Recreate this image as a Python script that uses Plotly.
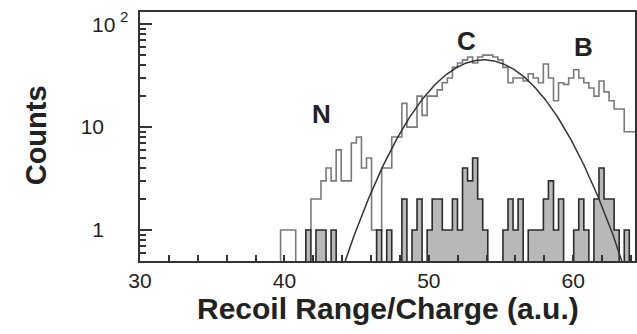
import numpy as np
import plotly.graph_objects as go

# Histogram binning (recoil range / charge, arbitrary units)
bin_start = 39.735
bin_width = 0.35

# All events per bin
all_counts = [
    1, 1, 1, 0, 0, 1, 2, 2, 3, 4,
    3, 6, 3, 3, 7, 8, 4, 5, 1, 1,
    4, 4, 8, 8, 17, 10, 10, 20, 13, 20,
    20, 23, 27, 30, 38, 42, 45, 48, 42, 48,
    50, 50, 48, 45, 38, 27, 30, 30, 28, 33,
    30, 27, 41, 30, 18, 27, 26, 30, 36, 30,
    27, 24, 20, 28, 22, 18, 15, 15, 9, 9,
    9,
]

# Events passing the coincidence condition (shaded)
tagged_counts = [
    0, 0, 0, 0, 0, 1, 0, 1, 1, 0,
    1, 0, 0, 0, 0, 0, 0, 0, 0, 1,
    0, 1, 0, 0, 2, 0, 1, 2, 0, 1,
    2, 2, 1, 1, 2, 1, 4, 3, 5, 2,
    1, 0, 0, 0, 1, 2, 1, 2, 0, 1,
    1, 1, 2, 3, 1, 2, 0, 0, 1, 2,
    1, 0, 2, 4, 2, 2, 1, 0, 1, 0,
    0,
]

# Gaussian fit to the carbon peak
fit_amplitude = 45.0
fit_center = 53.8
fit_sigma = 3.2

species_labels = ["N", "C", "B"]
species_x = [42.6, 52.6, 60.7]
species_y = [13.5, 68.0, 60.0]

x_tick_vals = [30, 40, 50, 60]
x_minor_vals = [32, 34, 36, 38, 42, 44, 46, 48, 52, 54, 56, 58, 62, 64]
y_tick_vals = [1, 10, 100]
y_tick_text = ["1", "10", ""]
y_minor_vals = [0.6, 0.7, 0.8, 0.9, 2, 3, 4, 5, 6, 7, 8, 9,
                20, 30, 40, 50, 60, 70, 80, 90]

FLOOR = 0.2  # below the visible range, used to close empty bins


def step_path(counts):
    xs, ys = [], []
    for i, c in enumerate(counts):
        lo = bin_start + i * bin_width
        hi = lo + bin_width
        v = c if c > 0 else FLOOR
        xs += [lo, hi]
        ys += [v, v]
    xs = [xs[0]] + xs + [xs[-1]]
    ys = [FLOOR] + ys + [FLOOR]
    return xs, ys


fig = go.Figure()

ax, ay = step_path(all_counts)
fig.add_trace(go.Scatter(x=ax, y=ay, mode="lines",
                         line=dict(color="#7a7a7a", width=1.6),
                         hoverinfo="skip"))

tx, ty = step_path(tagged_counts)
fig.add_trace(go.Scatter(x=tx, y=ty, mode="lines", fill="toself",
                         fillcolor="#b8b8b8",
                         line=dict(color="#2b2b2b", width=1.6),
                         hoverinfo="skip"))

fx = np.linspace(42.0, 66.0, 400)
fy = fit_amplitude * np.exp(-(fx - fit_center) ** 2 / (2 * fit_sigma ** 2))
fig.add_trace(go.Scatter(x=fx, y=fy, mode="lines",
                         line=dict(color="#333333", width=1.5),
                         hoverinfo="skip"))

for lab, lx, ly in zip(species_labels, species_x, species_y):
    fig.add_annotation(x=lx, y=np.log10(ly), text=f"<b>{lab}</b>",
                       showarrow=False, font=dict(size=26, color="#222"),
                       xanchor="center", yanchor="middle")

# 10^2 label on the count axis
fig.add_annotation(xref="paper", yref="y", x=-0.046, y=2.0, text="10",
                   showarrow=False, xanchor="right", yanchor="middle",
                   font=dict(size=21, color="#222"))
fig.add_annotation(xref="paper", yref="y", x=-0.033, y=2.07, text="2",
                   showarrow=False, xanchor="center", yanchor="middle",
                   font=dict(size=15, color="#222"))

fig.add_annotation(xref="paper", yref="paper", x=0.502, y=-0.19,
                   text="<b>Recoil Range/Charge (a.u.)</b>", showarrow=False,
                   xanchor="center", yanchor="middle",
                   font=dict(size=30, color="#222"))
fig.add_annotation(xref="paper", yref="paper", x=-0.21, y=0.505,
                   text="<b>Counts</b>", showarrow=False, textangle=-90,
                   xanchor="center", yanchor="middle",
                   font=dict(size=29, color="#222"))

fig.update_xaxes(range=[30, 64.28], showline=True, linecolor="#333",
                 linewidth=1.6, mirror=True, ticks="inside", ticklen=6,
                 tickwidth=1.5, tickcolor="#333",
                 tickvals=x_tick_vals, showgrid=False, zeroline=False,
                 tickfont=dict(size=21, color="#222"),
                 minor=dict(tickvals=x_minor_vals, ticks="inside",
                            ticklen=6, tickwidth=1.5, tickcolor="#333"))
fig.update_yaxes(type="log", range=[np.log10(0.5), 2.118], showline=True,
                 linecolor="#333", linewidth=1.6, mirror=True,
                 ticks="inside", ticklen=12, tickwidth=1.5, tickcolor="#333",
                 tickvals=y_tick_vals, ticktext=y_tick_text,
                 ticklabelstandoff=30, showgrid=False, zeroline=False,
                 tickfont=dict(size=21, color="#222"),
                 minor=dict(tickvals=y_minor_vals, ticks="inside",
                            ticklen=6, tickwidth=1.5, tickcolor="#333"))

fig.update_layout(width=637, height=334,
                  margin=dict(l=140, r=0, t=12, b=73),
                  plot_bgcolor="white", paper_bgcolor="white",
                  showlegend=False,
                  font=dict(family="Liberation Sans, Arial, sans-serif"))

fig.write_html("out.html")
